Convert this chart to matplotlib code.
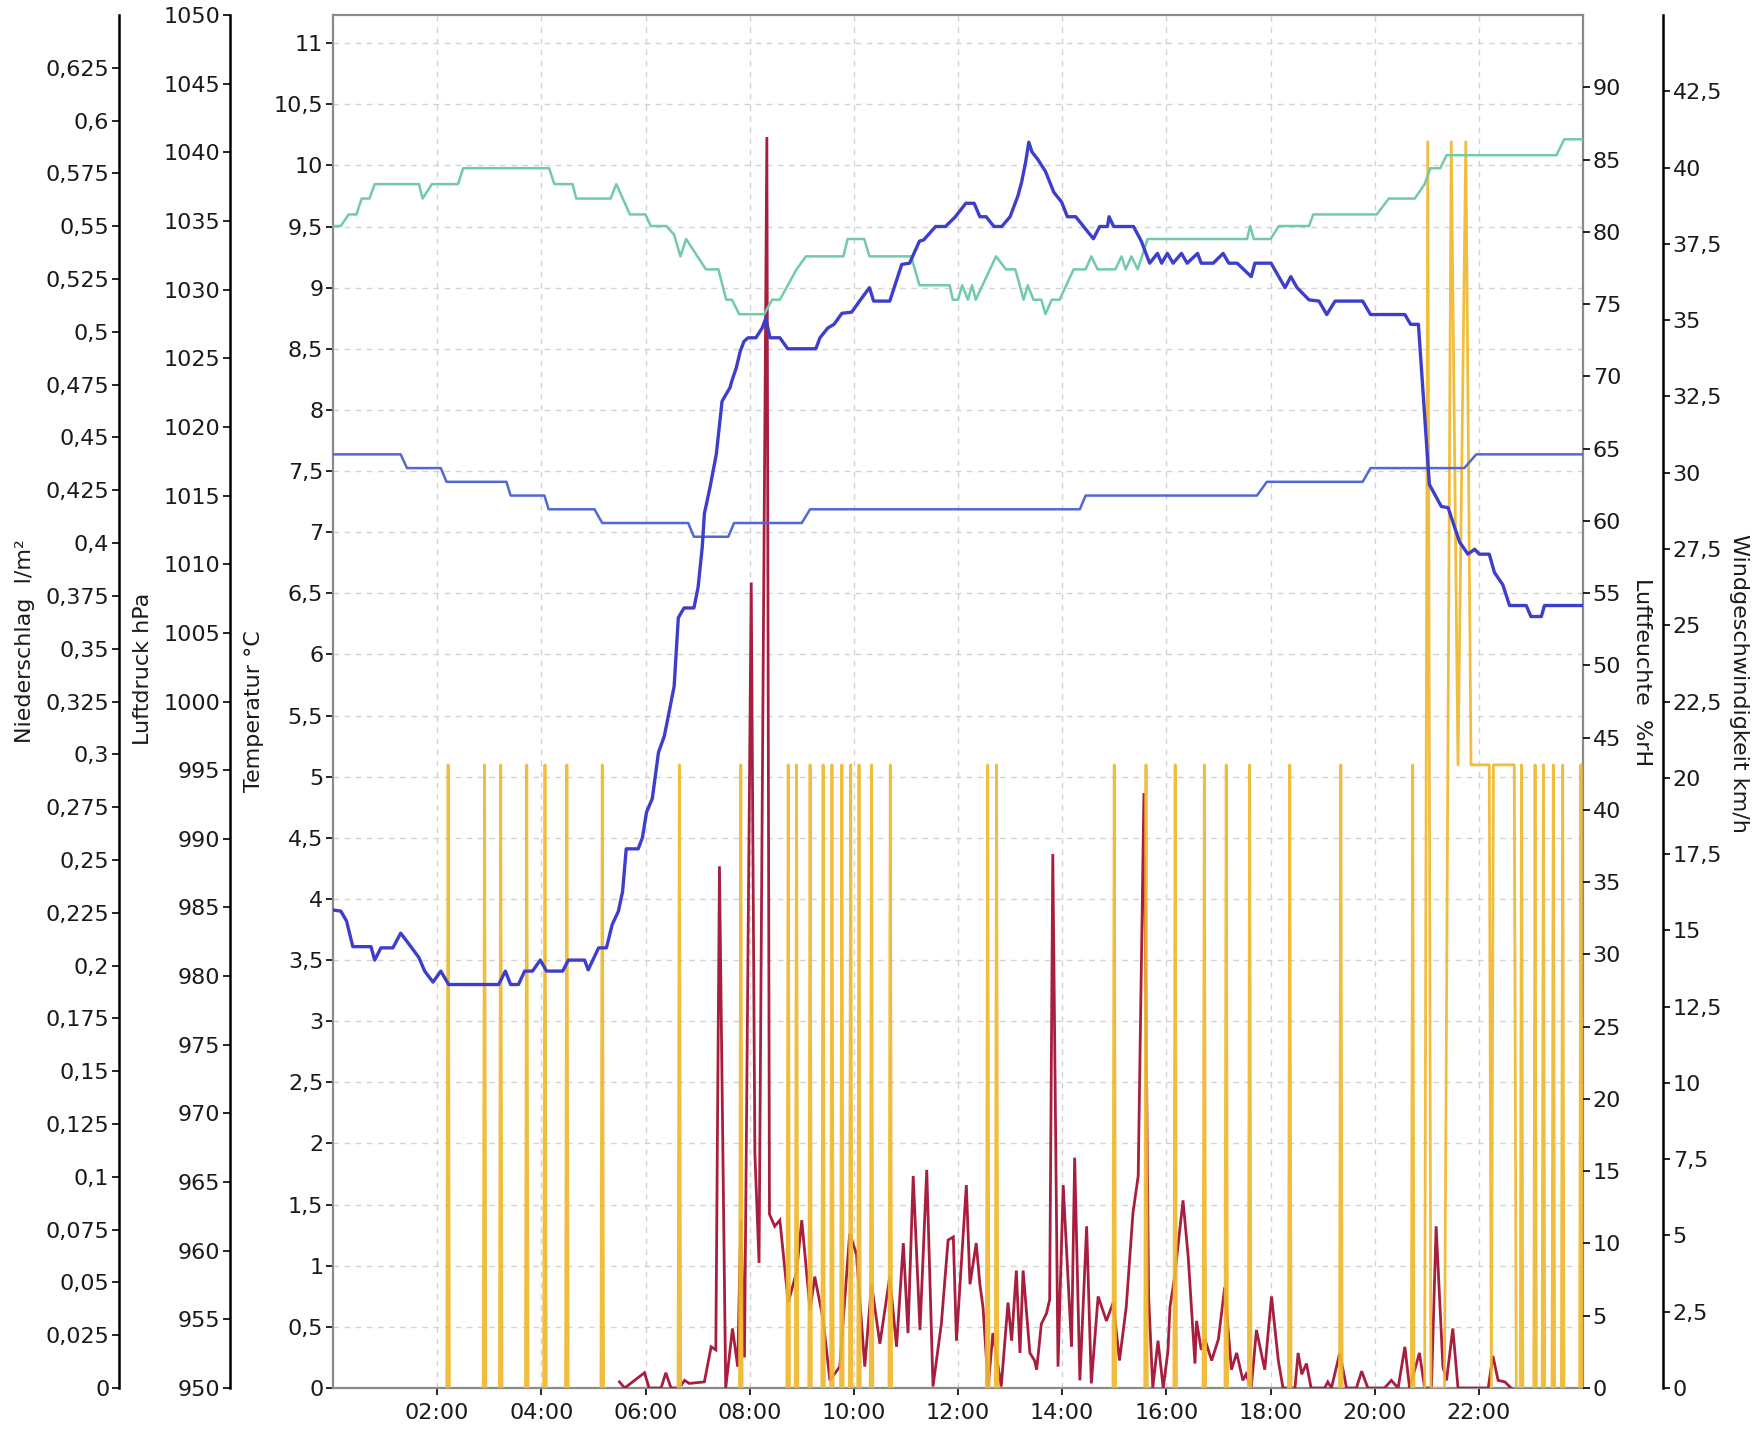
import numpy as np
import matplotlib.pyplot as plt
from matplotlib.ticker import FixedLocator, FuncFormatter

# Temperatur (°C)
temp_h = [0.0, 0.15, 0.26, 0.38, 0.73, 0.8, 0.92, 1.15, 1.3, 1.46, 1.65, 1.76, 1.92, 2.07, 2.22,
          3.18, 3.31, 3.41, 3.56, 3.68, 3.83, 3.98, 4.1, 4.41, 4.52, 4.83, 4.9, 5.1, 5.25, 5.36,
          5.48, 5.56, 5.63, 5.86, 5.94, 6.02, 6.13, 6.25, 6.36, 6.44, 6.55, 6.63, 6.74, 6.93,
          7.01, 7.09, 7.13, 7.24, 7.36, 7.43, 7.47, 7.55, 7.62, 7.66, 7.74, 7.82, 7.89, 7.97,
          8.12, 8.24, 8.31, 8.39, 8.58, 8.73, 9.27, 9.35, 9.5, 9.62, 9.77, 9.96, 10.11, 10.3,
          10.38, 10.69, 10.92, 11.07, 11.26, 11.34, 11.57, 11.76, 11.95, 12.15, 12.31, 12.42,
          12.54, 12.69, 12.84, 13.0, 13.15, 13.22, 13.3, 13.36, 13.42, 13.53, 13.68, 13.84,
          13.99, 14.1, 14.26, 14.6, 14.72, 14.87, 14.9, 14.99, 15.37, 15.52, 15.68, 15.83,
          15.91, 16.02, 16.13, 16.29, 16.4, 16.6, 16.67, 16.9, 17.09, 17.2, 17.36, 17.63, 17.7,
          18.01, 18.28, 18.39, 18.51, 18.74, 18.93, 19.08, 19.24, 19.77, 19.92, 20.58, 20.69,
          20.84, 21.05, 21.28, 21.41, 21.63, 21.79, 21.92, 22.01, 22.2, 22.3, 22.46, 22.59,
          22.91, 23.0, 23.2, 23.26, 24.0]
temp_c = [3.91, 3.9, 3.82, 3.61, 3.61, 3.5, 3.6, 3.6, 3.72, 3.63, 3.52, 3.41, 3.32, 3.41, 3.3,
          3.3, 3.41, 3.3, 3.3, 3.41, 3.41, 3.5, 3.41, 3.41, 3.5, 3.5, 3.42, 3.6, 3.6, 3.79,
          3.9, 4.06, 4.41, 4.41, 4.5, 4.71, 4.82, 5.2, 5.33, 5.5, 5.74, 6.3, 6.38, 6.38,
          6.55, 6.88, 7.15, 7.37, 7.64, 7.91, 8.07, 8.13, 8.18, 8.24, 8.34, 8.48, 8.56, 8.59,
          8.59, 8.67, 8.75, 8.59, 8.59, 8.5, 8.5, 8.59, 8.67, 8.7, 8.79, 8.8, 8.89, 9.0,
          8.89, 8.89, 9.19, 9.2, 9.38, 9.39, 9.5, 9.5, 9.58, 9.69, 9.69, 9.58,
          9.58, 9.5, 9.5, 9.58, 9.75, 9.86, 10.03, 10.19, 10.11, 10.05, 9.95, 9.78,
          9.7, 9.58, 9.58, 9.4, 9.5, 9.5, 9.58, 9.5, 9.5, 9.38, 9.2, 9.28,
          9.2, 9.28, 9.2, 9.28, 9.2, 9.28, 9.2, 9.2, 9.28, 9.2, 9.2, 9.09, 9.2,
          9.2, 9.0, 9.09, 9.0, 8.9, 8.89, 8.78, 8.89, 8.89, 8.78, 8.78, 8.7,
          8.7, 7.39, 7.21, 7.2, 6.92, 6.82, 6.86, 6.82, 6.82, 6.67, 6.57, 6.4,
          6.4, 6.31, 6.31, 6.4, 6.4]

# Luftdruck (hPa)
druck_h = [0.0, 1.3, 1.42, 2.07, 2.18, 3.33, 3.41, 4.06, 4.14, 5.02, 5.17, 6.82, 6.93, 7.59,
           7.7, 9.0, 9.16, 14.34, 14.45, 17.74, 17.93, 19.77, 19.92, 21.72, 21.95, 24.0]
druck_hpa = [1018, 1018, 1017, 1017, 1016, 1016, 1015, 1015, 1014, 1014, 1013, 1013, 1012, 1012,
             1013, 1013, 1014, 1014, 1015, 1015, 1016, 1016, 1017, 1017, 1018, 1018]

# Luftfeuchte (%rH)
feuchte_h = [0.0, 0.15, 0.3, 0.45, 0.55, 0.7, 0.8, 1.65, 1.72, 1.9, 2.4, 2.5, 4.15, 4.25, 4.6,
             4.67, 5.33, 5.44, 5.7, 6.0, 6.1, 6.4, 6.55, 6.67, 6.78, 7.16, 7.4, 7.55, 7.66,
             7.8, 8.28, 8.43, 8.58, 8.9, 9.08, 9.8, 9.88, 10.2, 10.3, 11.1, 11.26, 11.84, 11.9,
             12.0, 12.08, 12.19, 12.27, 12.34, 12.73, 12.92, 13.1, 13.26, 13.34, 13.45, 13.6,
             13.68, 13.8, 13.95, 14.22, 14.45, 14.56, 14.68, 15.02, 15.14, 15.22, 15.33, 15.45,
             15.64, 17.55, 17.61, 17.68, 18.0, 18.16, 18.74, 18.82, 20.04, 20.27, 20.77, 20.96,
             21.07, 21.26, 21.38, 23.49, 23.64, 24.0]
feuchte_rh = [80.4, 80.4, 81.2, 81.2, 82.3, 82.3, 83.3, 83.3, 82.3, 83.3, 83.3, 84.4, 84.4, 83.3,
              83.3, 82.3, 82.3, 83.3, 81.2, 81.2, 80.4, 80.4, 79.8, 78.3, 79.5, 77.4, 77.4, 75.3,
              75.3, 74.3, 74.3, 75.3, 75.3, 77.4, 78.3, 78.3, 79.5, 79.5, 78.3, 78.3, 76.3, 76.3,
              75.3, 75.3, 76.3, 75.3, 76.3, 75.3, 78.3, 77.4, 77.4, 75.3, 76.3, 75.3, 75.3,
              74.3, 75.3, 75.3, 77.4, 77.4, 78.3, 77.4, 77.4, 78.3, 77.4, 78.3, 77.4,
              79.5, 79.5, 80.4, 79.5, 79.5, 80.4, 80.4, 81.2, 81.2, 82.3, 82.3, 83.3,
              84.4, 84.4, 85.3, 85.3, 86.4, 86.4]

# Windgeschwindigkeit (km/h)
wind_h = [5.5, 5.6, 5.98, 6.07, 6.3, 6.39, 6.49, 6.65, 6.75, 6.84, 7.13, 7.26, 7.35, 7.42, 7.54,
          7.67, 7.77, 7.83, 7.9, 8.03, 8.1, 8.18, 8.33, 8.38, 8.48, 8.58, 8.74, 8.9, 9.0, 9.16,
          9.25, 9.41, 9.54, 9.73, 9.92, 10.05, 10.21, 10.34, 10.5, 10.69, 10.82, 10.95, 11.04,
          11.14, 11.27, 11.4, 11.52, 11.68, 11.81, 11.91, 11.97, 12.16, 12.23, 12.35, 12.42,
          12.48, 12.58, 12.67, 12.83, 12.96, 13.03, 13.12, 13.19, 13.25, 13.38, 13.47, 13.51,
          13.6, 13.7, 13.76, 13.82, 13.92, 14.02, 14.18, 14.24, 14.34, 14.47, 14.56, 14.69,
          14.85, 14.98, 15.1, 15.23, 15.36, 15.46, 15.57, 15.66, 15.74, 15.84, 15.94, 16.03,
          16.07, 16.16, 16.32, 16.42, 16.55, 16.58, 16.67, 16.74, 16.87, 17.0, 17.12, 17.25,
          17.35, 17.47, 17.53, 17.63, 17.73, 17.89, 18.02, 18.15, 18.24, 18.47, 18.53, 18.6,
          18.69, 18.78, 19.04, 19.1, 19.17, 19.33, 19.46, 19.65, 19.75, 19.87, 20.19, 20.32,
          20.45, 20.58, 20.67, 20.86, 20.96, 21.09, 21.18, 21.31, 21.38, 21.5, 21.6, 22.18,
          22.27, 22.37, 22.5, 22.62]
wind_kmh = [0.2, 0.0, 0.5, 0.0, 0.0, 0.5, 0.0, 0.0, 0.25, 0.15, 0.2, 1.35, 1.25, 17.1, 0.0,
            1.95, 0.7, 5.5, 1.0, 26.4, 7.7, 4.1, 41.0, 5.7, 5.3, 5.5, 2.8, 3.8, 5.5, 2.55,
            3.65, 2.25, 0.25, 0.7, 5.05, 4.4, 0.7, 3.4, 1.45, 3.65, 1.35, 4.75, 1.8,
            6.95, 1.9, 7.15, 0.05, 2.1, 4.85, 4.95, 1.55, 6.65, 3.4, 4.75, 3.4,
            2.65, 0.05, 1.8, 0.05, 2.8, 1.55, 3.85, 1.15, 3.85, 1.15, 0.9, 0.6,
            2.1, 2.45, 2.9, 17.5, 0.7, 6.65, 1.35, 7.55, 0.25, 5.3, 0.15, 3.0,
            2.2, 2.8, 0.9, 2.65, 5.75, 6.95, 19.5, 3.0, 0.0, 1.55, 0.0, 1.2,
            2.65, 3.65, 6.15, 4.3, 0.8, 2.2, 1.25, 1.6, 0.9, 1.6, 3.3, 0.6,
            1.15, 0.25, 0.45, 0.0, 1.9, 0.6, 3.0, 0.9, 0.0, 0.0, 1.15, 0.45,
            0.8, 0.0, 0.0, 0.2, 0.0, 1.15, 0.0, 0.0, 0.55, 0.0, 0.0, 0.25,
            0.0, 1.35, 0.0, 1.15, 0.0, 0.0, 5.3, 0.7, 0.25, 1.95, 0.0, 0.0,
            1.05, 0.25, 0.2, 0.0]

# Niederschlag (l/m²): einzelne Kippungen und Verlauf am Abend
regen_kipp_h = [2.21, 2.91, 3.22, 3.72, 4.07, 4.49, 5.17, 6.65, 7.83, 8.74, 8.9, 9.16, 9.41,
                9.58, 9.77, 9.94, 10.1, 10.34, 10.7, 12.57, 12.74, 15.0, 15.61, 16.17, 16.73,
                17.15, 17.6, 18.37, 19.35, 20.73, 22.82, 23.08, 23.24, 23.43, 23.61, 23.96]
regen_kipp_mm = 0.295
regen_abend_h = [20.96, 21.02, 21.08, 21.34, 21.47, 21.6, 21.75, 21.85, 22.2, 22.24, 22.28,
                 22.68, 22.72]
regen_abend_mm = [0, 0.59, 0, 0, 0.59, 0.295, 0.59, 0.295, 0.295, 0, 0.295, 0.295, 0]

stunden = list(range(2, 23, 2))

c_temp = '#3d3fcc'
c_druck = '#5268d4'
c_feuchte = '#72caa8'
c_wind = '#a81e3e'
c_regen = '#efb82e'
c_text = '#1a1a1a'
FS = 16


def de_fmt(v, pos=None):
    s = f"{v:.3f}".rstrip("0").rstrip(".")
    return s.replace(".", ",")


fig = plt.figure(figsize=(17.63, 14.35), dpi=100)
W, H = 1763, 1435
ax = fig.add_axes([333 / W, (H - 1388) / H, 1250 / W, 1373 / H])


def style_axis(a, side, ticks, lim, pos=None, spine_color='black'):
    for s in a.spines.values():
        s.set_visible(False)
    a.set_ylim(*lim)
    a.yaxis.set_major_locator(FixedLocator(ticks))
    a.yaxis.set_major_formatter(FuncFormatter(de_fmt))
    if side == 'left':
        a.yaxis.tick_left()
    else:
        a.yaxis.tick_right()
    sp = a.spines[side]
    if pos is not None:
        sp.set_position(('axes', pos))
        sp.set_visible(True)
        sp.set_color(spine_color)
        sp.set_linewidth(1.8)
    a.tick_params(axis='y', direction='out', length=5, width=1.2, pad=2,
                  labelsize=FS, labelcolor=c_text)


# Hauptachse: Temperatur, Raster, Zeitachse
ax.set_xlim(0, 24)
ax.set_ylim(0, 11.23)
ax.yaxis.set_major_locator(FixedLocator(np.arange(0, 11.01, 0.5)))
ax.yaxis.set_major_formatter(FuncFormatter(de_fmt))
ax.set_xticks(stunden)
ax.set_xticklabels([f"{h:02d}:00" for h in stunden])
ax.tick_params(direction='out', length=5, width=1.2, pad=2, labelsize=FS, labelcolor=c_text)
ax.tick_params(axis='x', pad=6)
ax.grid(True, color='#d2d2d2', linestyle=(0, (4, 4)), linewidth=1.0)
for s in ax.spines.values():
    s.set_color('#8a8a8a')
    s.set_linewidth(1.6)

# Zusatzachsen (Reihenfolge = Zeichenreihenfolge)
ax_w = ax.twinx()
style_axis(ax_w, 'right', np.arange(0, 42.51, 2.5), (0, 45), pos=1.064)
ax_w.plot(wind_h, wind_kmh, color=c_wind, lw=2.0, solid_joinstyle='miter')

ax_r = ax.twinx()
style_axis(ax_r, 'left', np.arange(0, 0.6251, 0.025), (0, 0.65), pos=-0.1712)
dt = 0.025
rx, ry = [], []
for t in regen_kipp_h:
    rx += [t - dt, t, t + dt, np.nan]
    ry += [0, regen_kipp_mm, 0, np.nan]
rx += regen_abend_h
ry += regen_abend_mm
ax_r.plot(rx, ry, color=c_regen, lw=2.0, alpha=0.92)

ax_p = ax.twinx()
style_axis(ax_p, 'left', np.arange(950, 1050.1, 5), (950, 1050), pos=-0.0824)
ax_p.plot(druck_h, druck_hpa, color=c_druck, lw=1.8)

ax_h = ax.twinx()
style_axis(ax_h, 'right', np.arange(0, 90.1, 5), (0, 95))
ax_h.plot(feuchte_h, feuchte_rh, color=c_feuchte, lw=1.8)

ax_t = ax.twinx()
for s in ax_t.spines.values():
    s.set_visible(False)
ax_t.set_ylim(ax.get_ylim())
ax_t.yaxis.set_visible(False)
ax_t.plot(temp_h, temp_c, color=c_temp, lw=2.4)

# Achsentitel
fig.text(25 / W, 1 - 641 / H, "Niederschlag  l/m²", rotation=90, ha='center', va='center',
         fontsize=FS, color=c_text)
fig.text(143 / W, 1 - 669 / H, "Luftdruck hPa", rotation=90, ha='center', va='center',
         fontsize=FS, color=c_text)
fig.text(254 / W, 1 - 711 / H, "Temperatur °C", rotation=90, ha='center', va='center',
         fontsize=FS, color=c_text)
fig.text(1642 / W, 1 - 672 / H, "Luftfeuchte  %rH", rotation=270, ha='center', va='center',
         fontsize=FS, color=c_text)
fig.text(1739 / W, 1 - 683 / H, "Windgeschwindigkeit km/h", rotation=270, ha='center',
         va='center', fontsize=FS, color=c_text)

fig.savefig("out.png", dpi=100, facecolor='white')
